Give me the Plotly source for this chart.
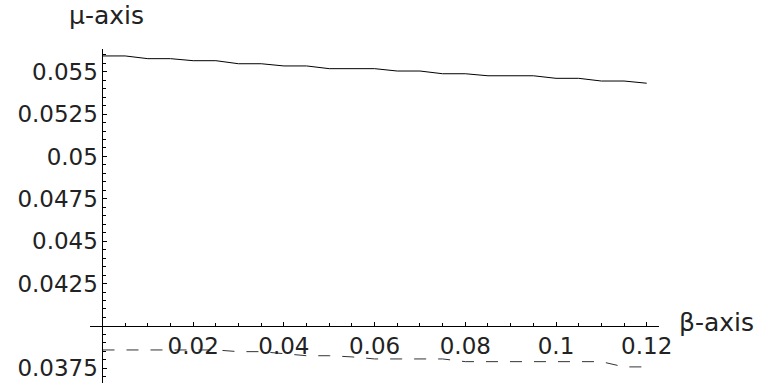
import plotly.graph_objects as go

beta = [0.0, 0.005, 0.01, 0.015, 0.02, 0.025, 0.03, 0.035, 0.04, 0.045, 0.05,
        0.055, 0.06, 0.065, 0.07, 0.075, 0.08, 0.085, 0.09, 0.095, 0.1,
        0.105, 0.11, 0.115, 0.12]
mu_solid = [0.05593, 0.05593, 0.05577, 0.05577, 0.05565, 0.05565, 0.05547,
            0.05547, 0.05534, 0.05534, 0.05518, 0.05518, 0.05518, 0.05504,
            0.05504, 0.05488, 0.05488, 0.05476, 0.05476, 0.05476, 0.05461,
            0.05461, 0.05445, 0.05445, 0.05432]
mu_dashed = [0.03858, 0.03858, 0.03858, 0.03858, 0.03858, 0.03858, 0.03848,
             0.03848, 0.03836, 0.03824, 0.03824, 0.03817, 0.03805, 0.03805,
             0.03805, 0.03805, 0.03789, 0.03789, 0.03789, 0.03789, 0.03789,
             0.03789, 0.03789, 0.03758, 0.03758]

x_tickvals = [0.02, 0.04, 0.06, 0.08, 0.1, 0.12]
x_ticktext = ["0.02", "0.04", "0.06", "0.08", "0.1", "0.12"]
y_tickvals = [0.0375, 0.0425, 0.045, 0.0475, 0.05, 0.0525, 0.055]
y_ticktext = ["0.0375", "0.0425", "0.045", "0.0475", "0.05", "0.0525", "0.055"]
x_minor = [0.005, 0.01, 0.015, 0.025, 0.03, 0.035, 0.045, 0.05, 0.055,
           0.065, 0.07, 0.075, 0.085, 0.09, 0.095, 0.105, 0.11, 0.115]
y_minor = [0.037, 0.038, 0.0385, 0.039, 0.0395, 0.0405, 0.041, 0.0415, 0.042,
           0.043, 0.0435, 0.044, 0.0445, 0.0455, 0.046, 0.0465, 0.047,
           0.048, 0.0485, 0.049, 0.0495, 0.0505, 0.051, 0.0515, 0.052,
           0.053, 0.0535, 0.054, 0.0545, 0.0555, 0.056]

XR = [-0.002756, 0.12271]
YR = [0.03663, 0.05634]
x_axis_at = 0.04
y_axis_at = 0.0

FONT = "DejaVu Sans"
TXT = "#222222"
fig = go.Figure()
fig.add_trace(go.Scatter(x=beta, y=mu_solid, mode="lines",
                         line=dict(color="black", width=1), showlegend=False))
fig.add_trace(go.Scatter(x=beta, y=mu_dashed, mode="lines",
                         line=dict(color="#333333", width=1, dash="12px,12px"),
                         showlegend=False))

fig.update_layout(
    width=771, height=383,
    margin=dict(l=90, r=112, t=49, b=0, pad=0),
    paper_bgcolor="white", plot_bgcolor="white",
    font=dict(family=FONT, size=23, color=TXT),
    xaxis=dict(
        range=XR, showgrid=False, zeroline=False, showline=True,
        linecolor="black", linewidth=1,
        anchor="free",
        position=(x_axis_at - YR[0]) / (YR[1] - YR[0]),
        tickmode="array", tickvals=x_tickvals, ticktext=x_ticktext,
        ticks="inside", ticklen=4, tickcolor="black", tickwidth=1,
        ticklabelstandoff=0,
        minor=dict(ticks="inside", tickvals=x_minor, ticklen=2.5,
                   tickcolor="black", tickwidth=1, showgrid=False),
    ),
    yaxis=dict(
        range=YR, showgrid=False, zeroline=False, showline=True,
        linecolor="black", linewidth=1,
        anchor="free",
        position=(y_axis_at - XR[0]) / (XR[1] - XR[0]),
        tickmode="array", tickvals=y_tickvals, ticktext=y_ticktext,
        ticks="inside", ticklen=4, tickcolor="black", tickwidth=1,
        minor=dict(ticks="inside", tickvals=y_minor, ticklen=2.5,
                   tickcolor="black", tickwidth=1, showgrid=False),
    ),
    annotations=[
        dict(text="μ-axis", xref="x", yref="paper", x=0.0008, y=1.10,
             xanchor="center", yanchor="middle", showarrow=False,
             font=dict(family=FONT, size=25, color=TXT)),
        dict(text="β-axis", xref="paper", yref="y", x=1.031, y=0.04023,
             xanchor="left", yanchor="middle", showarrow=False,
             font=dict(family=FONT, size=25, color=TXT)),
    ],
)

fig.write_html("out.html")
